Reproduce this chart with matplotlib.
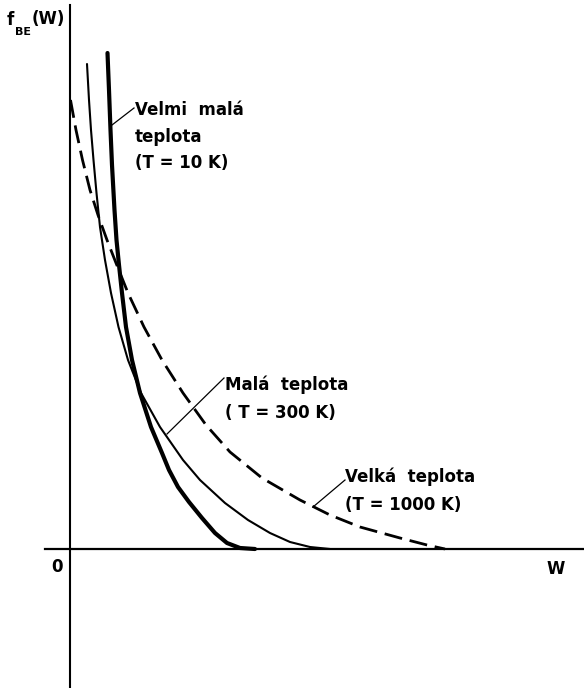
import matplotlib
matplotlib.use("Agg")
import matplotlib.pyplot as plt

# curves (W, f_BE(W)) in arbitrary units
w_10k = [0.375, 0.39, 0.405, 0.42, 0.445, 0.465, 0.49, 0.52, 0.56, 0.62, 0.70,
         0.81, 0.92, 0.99, 1.08, 1.19, 1.32, 1.45, 1.57, 1.70, 1.85]
f_10k = [4.96, 4.59, 4.19, 3.84, 3.39, 3.09, 2.84, 2.56, 2.22, 1.89, 1.56,
         1.22, 0.96, 0.79, 0.62, 0.47, 0.31, 0.16, 0.06, 0.01, 0.0]

w_300k = [0.17, 0.19, 0.21, 0.235, 0.265, 0.30, 0.35, 0.41, 0.485, 0.58,
          0.71, 0.90, 1.13, 1.30, 1.55, 1.78, 2.00, 2.20, 2.40, 2.60]
f_300k = [4.85, 4.49, 4.19, 3.89, 3.56, 3.22, 2.89, 2.56, 2.22, 1.89,
          1.56, 1.22, 0.89, 0.69, 0.46, 0.29, 0.16, 0.07, 0.02, 0.0]

w_1000k = [0.005, 0.06, 0.125, 0.20, 0.28, 0.37, 0.46, 0.58, 0.74, 0.92,
           1.13, 1.36, 1.60, 1.92, 2.30, 2.60, 2.90, 3.30, 3.57, 3.75]
f_1000k = [4.49, 4.19, 3.89, 3.59, 3.34, 3.09, 2.86, 2.56, 2.22, 1.89,
           1.56, 1.24, 0.97, 0.71, 0.49, 0.34, 0.22, 0.11, 0.04, 0.0]

labels_10k = ["Velmi  malá", "teplota", "(T = 10 K)"]
labels_300k = ["Malá  teplota", "( T = 300 K)"]
labels_1000k = ["Velká  teplota", "(T = 1000 K)"]

fig = plt.figure(figsize=(5.84, 6.88), dpi=100)
ax = fig.add_axes([0, 0, 1, 1])
ax.set_xlim(-0.70, 5.14)
ax.set_ylim(-1.39, 5.49)

# axes through origin
for s in ["top", "right"]:
    ax.spines[s].set_visible(False)
ax.spines["left"].set_position(("data", 0))
ax.spines["bottom"].set_position(("data", 0))
ax.spines["left"].set_bounds(-1.39, 5.44)
ax.spines["bottom"].set_bounds(-0.25, 5.14)
ax.spines["left"].set_linewidth(1.5)
ax.spines["bottom"].set_linewidth(1.6)
ax.set_xticks([])
ax.set_yticks([])

ax.plot(w_10k, f_10k, color="black", lw=3.0, solid_capstyle="round",
        solid_joinstyle="round")
ax.plot(w_300k, f_300k, color="black", lw=1.5, solid_capstyle="round",
        solid_joinstyle="round")
ax.plot(w_1000k, f_1000k, color="black", lw=2.0, dashes=(6.5, 2.8),
        dash_joinstyle="round")

font = dict(family="DejaVu Sans", fontweight="bold", fontsize=12, color="black")

# labels with leader lines
ax.plot([0.42, 0.64], [4.24, 4.41], color="black", lw=0.9)
for i, t in enumerate(labels_10k):
    ax.text(0.65, 4.39 - i * 0.265, t, va="center", ha="left", **font)

ax.plot([0.97, 1.54], [1.15, 1.71], color="black", lw=0.9)
for i, t in enumerate(labels_300k):
    ax.text(1.55, 1.64 - i * 0.28, t, va="center", ha="left", **font)

ax.plot([2.43, 2.75], [0.42, 0.69], color="black", lw=0.9)
for i, t in enumerate(labels_1000k):
    ax.text(2.75, 0.72 - i * 0.28, t, va="center", ha="left", **font)

ax.text(-0.13, -0.18, "0", va="center", ha="center", **font)
ax.text(4.86, -0.20, "W", va="center", ha="center", **font)
ax.text(-0.63, 5.29, r"f", va="center", ha="left", **font)
ax.text(-0.55, 5.17, "BE", va="center", ha="left", family="DejaVu Sans",
        fontweight="bold", fontsize=8)
ax.text(-0.38, 5.30, "(W)", va="center", ha="left", **font)

fig.savefig("out.png", dpi=100)
